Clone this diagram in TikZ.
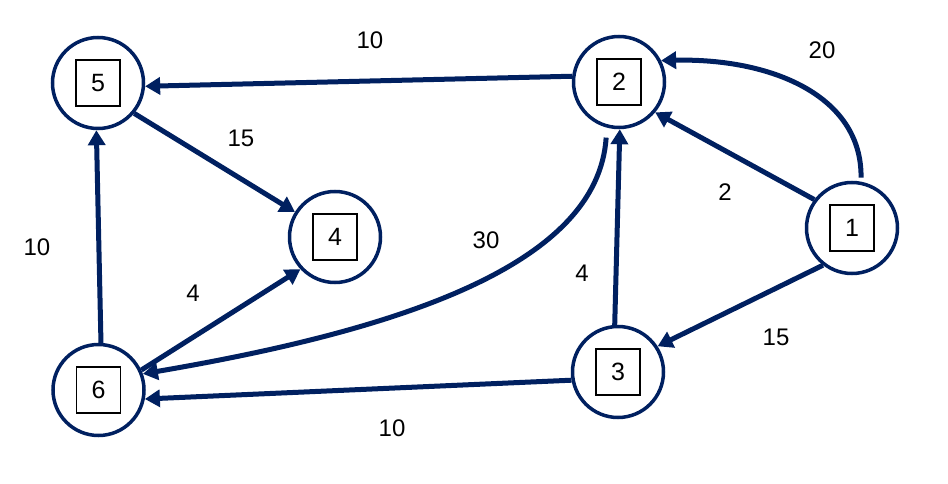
\documentclass[tikz,border=0pt]{standalone}
\usepackage{fontspec}
\setmainfont{Liberation Sans}
\usetikzlibrary{arrows.meta}
\definecolor{navy}{RGB}{0,32,96}
\begin{document}
\begin{tikzpicture}[x=1pt,y=-1pt,
  vertex/.style={circle,draw=navy,line width=3.5pt,minimum size=91pt,inner sep=0pt,fill=white},
  idbox/.style={draw=black,line width=1.4pt,minimum width=44pt,minimum height=46pt,inner sep=0pt,font=\fontsize{25}{30}\selectfont},
  wlabel/.style={font=\fontsize{24}{29}\selectfont,inner sep=0pt},
  edge/.style={draw=navy,line width=5pt,-{Triangle[length=15pt,width=17pt]}}]
\useasboundingbox (0,0) rectangle (948,484);
% vertices
\node[vertex] (n5) at (98,83) {};
\node[vertex] (n2) at (619,82) {};
\node[vertex] (n4) at (335,237) {};
\node[vertex] (n1) at (852,228) {};
\node[vertex] (n3) at (618,372) {};
\node[vertex] (n6) at (98.5,390) {};
\node[idbox] (b5) at (n5) {5};
\node[idbox] (b2) at (n2) {2};
\node[idbox] (b4) at (n4) {4};
\node[idbox] (b1) at (n1) {1};
\node[idbox] (b3) at (n3) {3};
\node[idbox] (b6) at (n6) {6};
% edges
\draw[edge] (n2.173) -- (n5.-4);
\draw[edge] (n5.-40) -- (n4.148);
\draw[edge] (n6.87) -- (n5.-92);
\draw[edge] (n6.25) -- (n4.223);
\draw[edge] (n3.94) -- (n2.-89);
\draw[edge] (n1.143) -- (n2.-40);
\draw[edge] (n1.232) -- (n3.33);
\draw[edge] (n3.190) -- (n6.-11);
\draw[edge,shorten <=4pt] (n1.79) .. controls (862,95) and (770,58) .. (n2.27);
\draw[edge,shorten <=10pt] (n2.255) .. controls (598,265) and (400,330) .. (n6.20);
% labels
\node[wlabel] (l25) at (370,40) {10};
\node[wlabel] (l54) at (241,138) {15};
\node[wlabel] (l65) at (37,247) {10};
\node[wlabel] (l64) at (193,293) {4};
\node[wlabel] (l26) at (486,240) {30};
\node[wlabel] (l32) at (582,273) {4};
\node[wlabel] (l12) at (725,192) {2};
\node[wlabel] (l12b) at (822,50) {20};
\node[wlabel] (l13) at (776,337) {15};
\node[wlabel] (l36) at (392,428) {10};
\end{tikzpicture}
\end{document}
